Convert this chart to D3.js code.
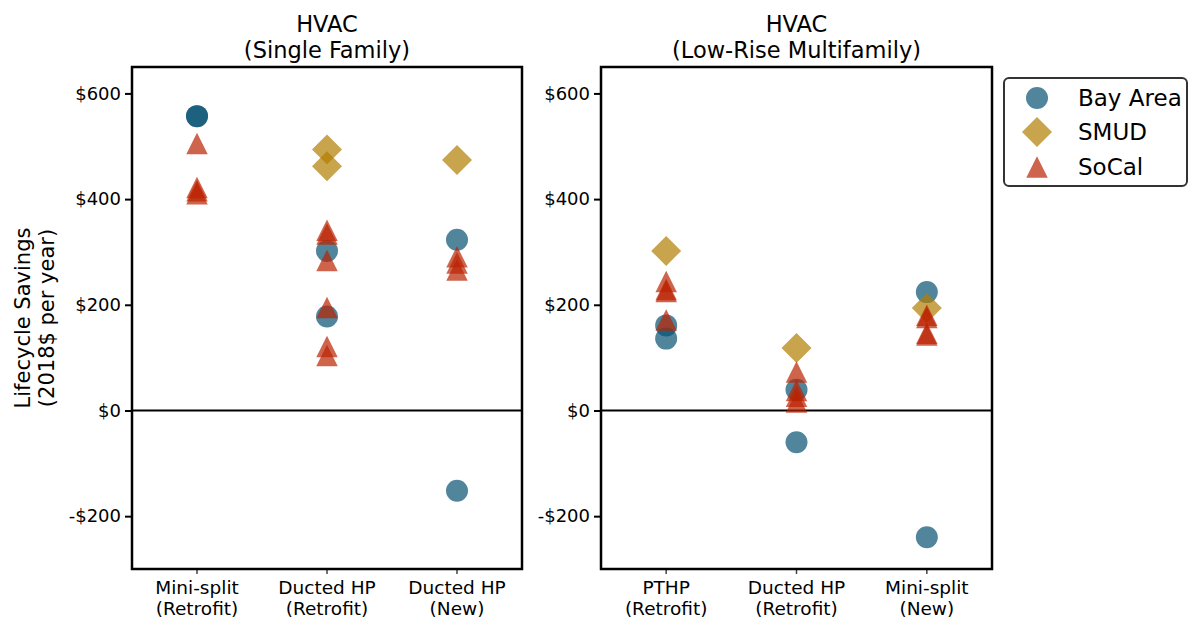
<!DOCTYPE html>
<html>
<head>
<meta charset="utf-8">
<script src="https://cdn.jsdelivr.net/npm/d3@7/dist/d3.min.js"></script>
<style>
  html, body { margin: 0; padding: 0; background: #fff; }
  svg { display: block; font-family: "DejaVu Sans", sans-serif; }
</style>
</head>
<body>
<svg id="chart" width="1190" height="621"></svg>
<script>
// ---------------- data ----------------
const panelTitles = [["HVAC", "(Single Family)"], ["HVAC", "(Low-Rise Multifamily)"]];
const sfCategories = [["Mini-split", "(Retrofit)"], ["Ducted HP", "(Retrofit)"], ["Ducted HP", "(New)"]];
const mfCategories = [["PTHP", "(Retrofit)"], ["Ducted HP", "(Retrofit)"], ["Mini-split", "(New)"]];
const yTicks = [-200, 0, 200, 400, 600];
const yDomain = [-300, 650];
const seriesNames = ["Bay Area", "SMUD", "SoCal"];
const seriesColors = ["#065172", "#b17e00", "#ba2202"];

// [category index, lifecycle savings $/yr]
const sfBayArea = [[0, 557], [0, 557], [1, 302], [1, 178], [2, 323], [2, -152]];
const sfSMUD    = [[1, 494], [1, 462], [2, 474]];
const sfSoCal   = [[0, 505], [0, 422], [0, 416], [0, 410],
                   [1, 341], [1, 334], [1, 284], [1, 195], [1, 121], [1, 104],
                   [2, 291], [2, 279], [2, 266]];
const mfBayArea = [[0, 161], [0, 136], [1, 39], [1, -60], [2, 224], [2, -240]];
const mfSMUD    = [[0, 302], [1, 118], [2, 194]];
const mfSoCal   = [[0, 244], [0, 229], [0, 225], [0, 171],
                   [1, 73], [1, 38], [1, 27], [1, 16],
                   [2, 180], [2, 176], [2, 146], [2, 143]];

// ---------------- layout ----------------
const svg = d3.select("#chart");
const plotTop = 67, plotBottom = 569;
const panels = [
  { x0: 132, x1: 522, title: panelTitles[0], cats: sfCategories, series: [sfBayArea, sfSMUD, sfSoCal] },
  { x0: 601, x1: 992, title: panelTitles[1], cats: mfCategories, series: [mfBayArea, mfSMUD, mfSoCal] }
];

const y = d3.scaleLinear().domain(yDomain).range([plotBottom, plotTop]);
const fmt = v => (v < 0 ? "-$" : "$") + Math.abs(v);

// custom symbols matching matplotlib markers
const triangleSym = {
  draw(ctx, size) {
    const h = Math.sqrt(size); // width == height
    ctx.moveTo(0, -h / 2);
    ctx.lineTo(h / 2, h / 2);
    ctx.lineTo(-h / 2, h / 2);
    ctx.closePath();
  }
};
const diamondSym = {
  draw(ctx, size) {
    const r = Math.sqrt(size) / 2; // half diagonal
    ctx.moveTo(0, -r);
    ctx.lineTo(r, 0);
    ctx.lineTo(0, r);
    ctx.lineTo(-r, 0);
    ctx.closePath();
  }
};
const symbols = [
  d3.symbol().type(d3.symbolCircle).size(Math.PI * 11 * 11),
  d3.symbol().type(diamondSym).size(30 * 30),
  d3.symbol().type(triangleSym).size(21.5 * 21.5)
];
const alpha = 0.7;

panels.forEach((p, pi) => {
  const x = d3.scaleBand().domain(d3.range(p.cats.length)).range([p.x0, p.x1]).padding(0);
  const cx = i => x(i) + x.bandwidth() / 2;
  const g = svg.append("g");

  // title
  const cxMid = (p.x0 + p.x1) / 2;
  g.append("text").attr("x", cxMid).attr("y", 32).attr("text-anchor", "middle")
    .attr("font-size", 22.5).text(p.title[0]);
  g.append("text").attr("x", cxMid).attr("y", 58).attr("text-anchor", "middle")
    .attr("font-size", 22.5).text(p.title[1]);

  // zero line
  g.append("line").attr("x1", p.x0).attr("x2", p.x1)
    .attr("y1", y(0)).attr("y2", y(0))
    .attr("stroke", "#000").attr("stroke-width", 2);

  // markers
  p.series.forEach((data, si) => {
    g.append("g").selectAll("path").data(data).join("path")
      .attr("d", symbols[si])
      .attr("transform", d => `translate(${cx(d[0])},${y(d[1])})`)
      .attr("fill", seriesColors[si])
      .attr("fill-opacity", alpha);
  });

  // y axis
  const ya = g.append("g").attr("transform", `translate(${p.x0},0)`)
    .call(d3.axisLeft(y).tickValues(yTicks).tickFormat(fmt).tickSize(7).tickPadding(4));
  ya.select(".domain").remove();
  ya.selectAll(".tick line").attr("stroke", "#000").attr("stroke-width", 2);
  ya.selectAll(".tick text").attr("font-size", 18).attr("font-family", "DejaVu Sans").attr("fill", "#000");

  // x axis
  const xa = g.append("g").attr("transform", `translate(0,${plotBottom})`)
    .call(d3.axisBottom(x).tickSize(5).tickFormat(""));
  xa.select(".domain").remove();
  xa.selectAll(".tick line").attr("stroke", "#444").attr("stroke-width", 1.5);
  p.cats.forEach((c, i) => {
    g.append("text").attr("x", cx(i)).attr("y", 594).attr("text-anchor", "middle")
      .attr("font-size", 18.5).text(c[0]);
    g.append("text").attr("x", cx(i)).attr("y", 615).attr("text-anchor", "middle")
      .attr("font-size", 18.5).text(c[1]);
  });

  // frame
  g.append("rect").attr("x", p.x0).attr("y", plotTop)
    .attr("width", p.x1 - p.x0).attr("height", plotBottom - plotTop)
    .attr("fill", "none").attr("stroke", "#000").attr("stroke-width", 2.5);
});

// y label
const yl = svg.append("g").attr("transform", "translate(0,318)");
yl.append("text").attr("transform", "translate(30,0) rotate(-90)")
  .attr("text-anchor", "middle").attr("font-size", 21).text("Lifecycle Savings");
yl.append("text").attr("transform", "translate(54,0) rotate(-90)")
  .attr("text-anchor", "middle").attr("font-size", 21).text("(2018$ per year)");

// legend
const lg = svg.append("g");
lg.append("rect").attr("x", 1004).attr("y", 78).attr("width", 183).attr("height", 108)
  .attr("rx", 5).attr("fill", "#fff").attr("stroke", "#333").attr("stroke-width", 2);
const legendY = [98, 132, 167];
seriesNames.forEach((n, i) => {
  lg.append("path").attr("d", symbols[i])
    .attr("transform", `translate(1037,${legendY[i]})`)
    .attr("fill", seriesColors[i]).attr("fill-opacity", alpha);
  lg.append("text").attr("x", 1078).attr("y", legendY[i] + 8)
    .attr("font-size", 23).text(n);
});
</script>
</body>
</html>
